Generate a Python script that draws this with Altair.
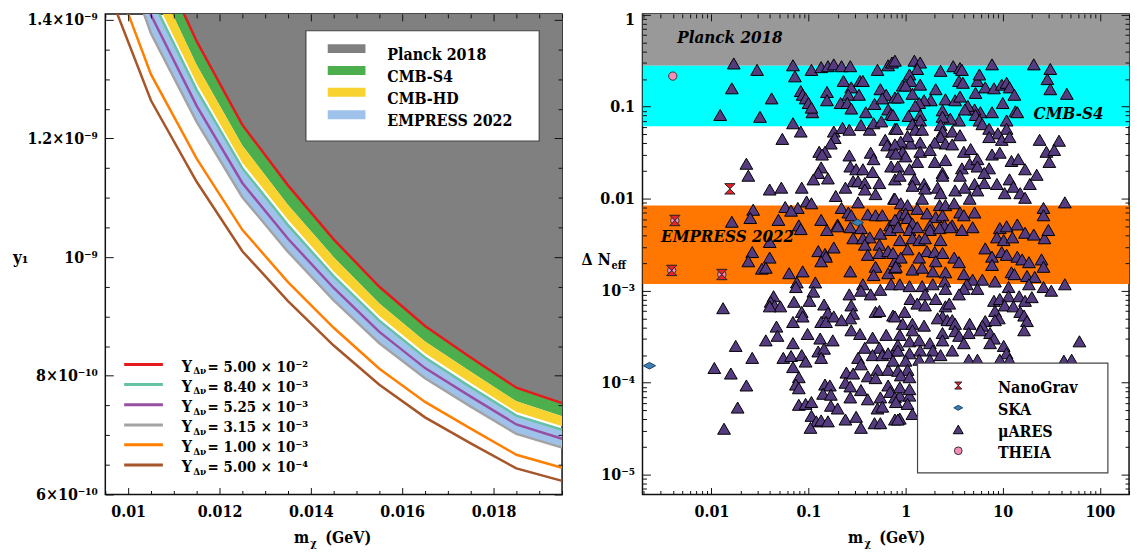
import altair as alt
import pandas as pd
import numpy as np

FONT = "DejaVu Serif Condensed, DejaVu Serif, serif"
WL, HL = 460, 484      # left plot area
WR, HR = 490, 484      # right plot area

# ---------------- LEFT PANEL DATA ----------------
m_chi = [0.0095, 0.0105, 0.0115, 0.0125, 0.0135, 0.0145, 0.0155, 0.0165, 0.0175, 0.0185, 0.0195]
# y1 values, in units of 1e-10
y1_5p00e2 = [17.70, 15.30, 13.64, 12.23, 11.21, 10.30, 9.50, 8.84, 8.31, 7.80, 7.54]
cmbs4_low = [17.19, 14.86, 13.24, 11.88, 10.88, 10.00, 9.22, 8.58, 8.07, 7.57, 7.32]
cmbhd_low = [16.78, 14.50, 12.93, 11.59, 10.63, 9.76, 9.01, 8.38, 7.88, 7.39, 7.15]
y1_8p40e3 = [16.64, 14.38, 12.82, 11.50, 10.54, 9.68, 8.93, 8.31, 7.81, 7.33, 7.09]
y1_5p25e3 = [16.28, 14.08, 12.55, 11.25, 10.31, 9.48, 8.74, 8.13, 7.65, 7.18, 6.94]
y1_3p15e3 = [15.93, 13.77, 12.28, 11.01, 10.09, 9.27, 8.55, 7.96, 7.48, 7.02, 6.79]
y1_1p00e3 = [15.13, 13.08, 11.66, 10.46, 9.58, 8.81, 8.12, 7.56, 7.11, 6.67, 6.45]
y1_5p00e4 = [14.62, 12.64, 11.27, 10.10, 9.26, 8.51, 7.85, 7.30, 6.86, 6.44, 6.23]
planck_upper = 20.0   # Planck-excluded region continues above the plotted range

line_labels = ["5.00 × 10⁻²", "8.40 × 10⁻³", "5.25 × 10⁻³", "3.15 × 10⁻³", "1.00 × 10⁻³", "5.00 × 10⁻⁴"]
line_colors = ["#e41a1c", "#66c2a5", "#984ea3", "#a3a3a3", "#ff7f00", "#a65628"]
band_labels_l = ["Planck 2018", "CMB-S4", "CMB-HD", "EMPRESS 2022"]
band_colors_l = ["#808080", "#4cae4c", "#f8d22f", "#9fc2eb"]

# ---------------- RIGHT PANEL DATA ----------------
band_names_r = ["Planck 2018", "CMB-S4", "EMPRESS 2022"]
band_low_r = [0.279, 0.0612, 0.00118]
band_high_r = [2.0, 0.279, 0.00843]
band_colors_r = ["#999999", "#00ffff", "#ff7700"]
band_text_m = [0.00445, 20.8, 0.00303]
band_text_dn = [0.487, 0.0738, 0.00337]

nanograv_m = [0.0042, 0.0039, 0.0155, 0.0128]
nanograv_dn = [0.0058, 0.00166, 0.0128, 0.0015]
ska_m = [0.0023, 0.32]
ska_dn = [1.53e-4, 0.0055]
theia_m = [0.0040, 0.0042, 0.0039, 0.0128]
theia_dn = [0.215, 0.0058, 0.00166, 0.0015]

# muARES points as (log10 m_chi/GeV, log10 Delta N_eff)
muares_a = [(-1.77,-0.53),(-1.53,-0.60),(-1.16,-0.55),(-0.97,-0.60),(-0.87,-0.57),(-0.80,-0.56),(-0.74,-0.54),(-0.66,-0.56),
 (-0.57,-0.56),(-0.29,-0.60),(-0.18,-0.55),(-0.14,-0.52),(-1.14,-0.67),(-1.79,-0.80),(-1.38,-0.91),(-1.08,-0.83),(-1.06,-0.87),
 (-1.03,-0.91),(-1.00,-0.96),(-0.96,-1.06),(-0.97,-1.01),(-0.81,-0.84),(-0.81,-0.93),(-0.64,-0.72),(-0.56,-0.79),(-0.59,-0.87),
 (-0.48,-0.87),(-0.47,-0.72),(-0.44,-0.72),(-0.67,-0.96),(-0.60,-0.96),(-0.56,-1.02),(-0.41,-1.06),(-0.32,-0.97),(-0.26,-0.81),
 (-0.20,-0.87),(-0.24,-0.91),(-0.11,-0.90),(-0.18,-1.03),(-0.15,-1.08),(-1.91,-1.09),(-1.50,-1.11),(-1.16,-1.18),(-1.08,-1.27),
 (-1.27,-1.35),(-0.74,-1.27),(-0.65,-1.23),(-0.58,-1.25),(-0.46,-1.20),(-0.37,-1.25),(-0.33,-1.18),(-0.25,-1.16),(-0.11,-1.24),
 (-0.73,-1.34),(-0.77,-1.40),(-0.21,-1.36),(-0.19,-1.42),(-0.14,-1.49),(-0.89,-1.49),(-0.83,-1.49),(-0.86,-1.52),(-0.58,-1.53),
 (-0.36,-1.50),(-0.33,-1.57),(-1.64,-1.62),(-1.62,-1.75),(-0.87,-1.66),(-0.90,-1.72),(-0.57,-1.65),(-0.51,-1.68),(-0.44,-1.68),
 (-0.34,-1.71),(-0.15,-1.65),(-0.95,-1.79),(-0.80,-1.78),(-0.54,-1.81),(-0.49,-1.81),(-0.42,-1.83),(-0.27,-1.83),(-0.11,-1.79),
 (-1.40,-1.90),(-1.28,-1.88),(-1.07,-1.88),(-0.62,-1.88),(-0.42,-1.90),(-0.72,-1.97),(-0.31,-1.95),(-0.12,-2.00),(-0.49,-2.04),
 (-1.02,-2.03),(-0.97,-2.05),(-1.24,-2.09),(-1.11,-2.10),(-1.18,-2.13),(-1.57,-2.12),(-1.60,-2.21),(-1.79,-2.25),(-0.66,-2.10),
 (-0.59,-2.15),(-0.56,-2.18),(-0.39,-2.17),(-0.31,-2.18),(-0.24,-2.18),(-0.87,-2.23),(-0.70,-2.28),(-1.31,-2.23),(-0.16,-2.29),
 (-1.10,-2.29)]
muares_b = [(-0.11,-0.50),(0.09,-0.50),(0.15,-0.52),(0.12,-0.59),(0.04,-0.65),(0.05,-0.72),(0.15,-0.76),(-0.03,-0.77),(0.00,-0.77),
 (0.07,-0.86),(-0.08,-0.90),(0.36,-0.61),(0.49,-0.56),(0.56,-0.58),(0.58,-0.60),(0.55,-0.72),(0.59,-0.74),(0.74,-0.72),(0.76,-0.65),
 (0.89,-0.54),(0.31,-0.81),(0.26,-0.93),(0.19,-0.93),(0.14,-0.96),(0.10,-0.99),(0.41,-0.92),(0.51,-0.93),(0.56,-0.89),(0.72,-0.85),
 (0.82,-0.79),(0.91,-0.80),(0.99,-0.76),(1.04,-0.74),(1.07,-0.79),(1.12,-0.87),(1.00,-0.96),(1.13,-1.05),(0.89,-1.06),(0.77,-1.06),
 (0.71,-1.03),(0.64,-0.99),(0.61,-1.03),(0.72,-1.09),(0.55,-1.15),(0.46,-1.13),(0.38,-1.04),(0.38,-1.11),(0.15,-1.09),(0.15,-1.15),
 (0.03,-1.10),(0.07,-1.19),(0.36,-1.20),(-0.13,-1.09),(-0.09,-1.24),(0.10,-1.25),(0.17,-1.25),(0.76,-1.15),(0.79,-1.19),(0.86,-1.24),
 (1.04,-1.15),(1.04,-1.24),(0.95,-1.29),(0.99,-1.36),(1.07,-1.33),(0.86,-1.33),(0.38,-1.27),(0.48,-1.27),(0.56,-1.31),(0.36,-1.33),
 (0.41,-1.40),(0.48,-1.41),(0.30,-1.39),(0.15,-1.39),(0.05,-1.40),(0.02,-1.32),(-0.05,-1.38),(-0.11,-1.41),(-0.03,-1.49),(0.00,-1.54),
 (-0.10,-1.51),(0.15,-1.49),(0.25,-1.47),(0.60,-1.49),(0.67,-1.46),(0.89,-1.52),(0.97,-1.50),(0.12,-1.60),(0.04,-1.68),(-0.08,-1.65),
 (-0.06,-1.75),(0.30,-1.60),(0.41,-1.58),(0.38,-1.72),(0.38,-1.75),(0.58,-1.67),(0.66,-1.62),(0.74,-1.57),(0.74,-1.65),(0.86,-1.67),
 (0.81,-1.72),(0.56,-1.75),(1.09,-1.59),(1.16,-1.57),(1.23,-1.68),(0.09,-1.79),(0.07,-1.86),(0.19,-1.84),(0.20,-1.89),(0.33,-1.88),
 (0.51,-1.91),(0.61,-1.88),(0.71,-1.84),(0.81,-1.83),(0.94,-1.84),(1.07,-1.79),(1.11,-1.87),(1.28,-1.84),(1.35,-1.74),(0.36,-1.94),
 (0.74,-1.91),(1.02,-1.94),(1.18,-1.94),(1.23,-1.99),(0.17,-2.00),(-0.11,-2.00),(-0.05,-2.05),(0.02,-2.07),(0.12,-2.11),(0.35,-2.07),
 (0.41,-2.07),(0.50,-2.05),(0.66,-2.00),(0.22,-2.16),(0.31,-2.20),(0.38,-2.18),(0.56,-2.15),(0.60,-2.18),(0.71,-2.15),(-0.06,-2.18),
 (0.00,-2.16),(0.02,-2.21),(0.07,-2.27),(-0.11,-2.23),(0.25,-2.29),(0.40,-2.29),(0.48,-2.29),(0.97,-2.32),(1.04,-2.30),(1.15,-2.28),
 (1.42,-2.10),(1.42,-2.18),(1.64,-2.04),(1.38,-1.36),(1.58,-1.37),(1.45,-1.49),(1.53,-1.47),(1.48,-1.60),(1.32,-0.54),(1.49,-0.59),
 (1.46,-0.70),(1.49,-0.81),(1.66,-0.86),(1.15,-1.06)]
muares_c = [(-1.08,-2.33),(-0.81,-2.34),(-0.70,-2.30),(-0.57,-2.31),(-0.46,-2.32),(-0.54,-2.43),(-0.44,-2.43),(-0.37,-2.42),
 (-0.26,-2.38),(-0.16,-2.34),(-1.40,-2.47),(-0.27,-2.50),(-0.42,-2.50),(-1.58,-2.58),(-1.62,-2.68),(-1.40,-2.64),(-0.90,-2.57),
 (-0.83,-2.60),(-0.74,-2.53),(-0.82,-2.63),(-0.87,-2.68),(-0.39,-2.61),(-0.27,-2.59),(-0.18,-2.57),(-0.11,-2.68),(-1.48,-2.76),
 (-1.44,-2.75),(-1.20,-2.81),(-1.06,-2.79),(-0.57,-2.79),(-0.31,-2.74),(-0.33,-2.83),(-0.18,-2.81),(-0.11,-2.75),(-1.12,-2.91),
 (-0.93,-2.91),(-0.44,-2.93),(-0.15,-2.93),(-1.13,-2.96),(-0.95,-3.01),(-0.58,-3.04),(-0.46,-3.00),(-0.36,-3.04),(-0.26,-2.99),
 (-1.88,-3.19),(-1.36,-3.06),(-1.39,-3.12),(-1.35,-3.16),(-1.29,-3.17),(-1.40,-3.17),(-1.15,-3.12),(-0.99,-3.11),(-0.84,-3.15),
 (-0.80,-3.24),(-0.56,-3.16),(-0.54,-3.25),(-0.57,-3.30),(-0.31,-3.23),(-0.27,-3.22),(-0.13,-3.27),(-1.07,-3.23),(-1.06,-3.28),
 (-1.16,-3.34),(-0.87,-3.34),(-0.82,-3.34),(-0.74,-3.28),(-0.66,-3.32),(-1.33,-3.39),(-0.56,-3.43),(-0.47,-3.47),(-0.34,-3.51),
 (-0.20,-3.48),(-1.32,-3.49),(-1.44,-3.54),(-1.01,-3.47),(-0.88,-3.52),(-0.75,-3.54),(-1.16,-3.57),(-1.75,-3.60),(-0.42,-3.62),
 (-0.27,-3.62),(-0.11,-3.65),(-0.90,-3.66),(-0.84,-3.63),(-1.26,-3.73),(-1.18,-3.71),(-1.07,-3.70),(-1.03,-3.77),(-0.87,-3.73),
 (-1.58,-3.73),(-0.49,-3.73),(-0.34,-3.70),(-0.24,-3.70),(-0.18,-3.68),(-1.97,-3.84),(-1.80,-3.90),(-1.16,-3.83),(-0.46,-3.80),
 (-0.29,-3.86),(-0.18,-3.86),(-0.61,-3.89),(-0.54,-3.90),(-0.39,-3.93),(-0.31,-3.95),(-1.10,-3.94),(-1.64,-4.03),(-1.13,-4.02),
 (-1.10,-4.06),(-0.83,-4.02),(-0.78,-4.03),(-0.62,-4.00),(-0.57,-4.04),(-0.18,-4.03),(-0.16,-4.10),(-0.85,-4.12),(-0.77,-4.13),
 (-0.57,-4.16),(-0.46,-4.08),(-0.39,-4.18),(-0.26,-4.16),(-0.11,-4.16),(-1.10,-4.24),(-1.03,-4.23),(-0.97,-4.21),(-0.77,-4.25),
 (-0.70,-4.28),(-1.73,-4.27),(-0.97,-4.36),(-0.92,-4.42),(-0.87,-4.41),(-0.80,-4.42),(-0.62,-4.40),(-0.51,-4.37),(-0.29,-4.28),
 (-0.24,-4.26),(-0.11,-4.40),(-0.32,-4.44),(-0.26,-4.44),(-0.98,-4.49),(-0.46,-4.49),(-1.87,-4.50)]
muares_d = [(-0.08,-2.31),(0.04,-2.34),(0.12,-2.31),(0.25,-2.34),(0.35,-2.32),(0.46,-2.31),(0.58,-2.34),(0.69,-2.31),(1.23,-2.37),
 (1.32,-2.39),(1.43,-2.43),(1.47,-2.34),(-0.06,-2.45),(0.07,-2.43),(0.14,-2.45),(0.20,-2.43),(0.36,-2.45),(0.94,-2.42),(1.01,-2.45),
 (1.10,-2.42),(0.02,-2.55),(0.22,-2.57),(0.30,-2.58),(0.38,-2.59),(-0.13,-2.59),(-0.05,-2.64),(0.14,-2.64),(0.31,-2.68),(0.50,-2.64),
 (0.55,-2.69),(0.82,-2.54),(0.89,-2.63),(0.89,-2.72),(0.99,-2.58),(1.04,-2.61),(1.15,-2.63),(1.20,-2.66),(1.27,-2.69),(1.40,-2.66),
 (1.42,-2.74),(-0.10,-2.74),(0.07,-2.77),(0.17,-2.75),(0.41,-2.80),(0.28,-2.79),(0.60,-2.82),(0.69,-2.88),(0.79,-2.88),(0.92,-2.90),
 (1.09,-2.80),(1.12,-2.82),(1.25,-2.84),(1.33,-2.85),(-0.06,-2.93),(0.04,-2.95),(0.17,-2.95),(0.28,-2.93),(0.40,-2.90),(0.63,-2.93),
 (0.74,-2.98),(0.60,-2.98),(1.06,-2.96),(1.27,-2.93),(1.42,-2.96),(1.50,-3.00),(1.64,-2.93),(0.05,-3.09),(0.20,-3.04),(0.31,-3.09),
 (0.41,-2.98),(0.55,-3.04),(0.91,-3.11),(0.97,-3.09),(1.06,-3.06),(1.17,-3.06),(1.23,-3.11),(1.30,-3.07),(0.12,-3.14),(0.20,-3.16),
 (0.41,-3.17),(0.45,-3.14),(1.02,-3.16),(1.11,-3.17),(0.92,-3.22),(-0.01,-3.23),(0.38,-3.28),(0.33,-3.30),(0.43,-3.32),(0.48,-3.32),
 (1.18,-3.23),(1.22,-3.27),(0.96,-3.30),(0.82,-3.33),(-0.11,-3.28),(-0.03,-3.36),(0.07,-3.36),(0.19,-3.38),(0.51,-3.36),(0.66,-3.36),
 (0.79,-3.38),(0.92,-3.32),(1.25,-3.33),(1.22,-3.43),(0.07,-3.43),(-0.06,-3.48),(0.38,-3.46),(0.51,-3.44),(0.55,-3.49),(0.65,-3.46),
 (0.77,-3.43),(0.87,-3.46),(0.91,-3.52),(-0.08,-3.59),(0.04,-3.55),(0.14,-3.54),(0.25,-3.57),(0.38,-3.54),(0.60,-3.57),(1.01,-3.60),
 (1.04,-3.68),(0.87,-3.57),(1.79,-3.55),(-0.08,-3.65),(0.04,-3.68),(0.15,-3.65),(0.28,-3.65),(0.36,-3.70),(0.48,-3.65),(0.25,-3.75),
 (0.14,-3.75),(0.65,-3.75),(0.74,-3.75),(0.97,-3.75),(1.07,-3.75),(1.63,-3.76),(1.71,-3.75),(0.00,-3.76),(-0.13,-3.76),(0.02,-3.86),
 (-0.08,-3.87),(-0.05,-3.92),(0.04,-3.94),(-0.06,-4.14),(0.04,-4.14),(-0.06,-4.05),(0.04,-4.07),(-0.10,-4.21),(0.02,-4.23),
 (0.07,-4.34),(-0.06,-4.39),(-0.08,-4.40)]

legend_r_labels = ["NanoGrav", "SKA", "μARES", "THEIA"]

# ---------------- helpers ----------------
dummy = pd.DataFrame({"k": [0]})


def txt(s, x, y, size=16, align="left", baseline="alphabetic", style="normal", weight="bold"):
    return alt.Chart(dummy).mark_text(text=s, font=FONT, fontSize=size, fontWeight=weight, fontStyle=style,
                                      align=align, baseline=baseline, color="black").encode(
        x=alt.value(x), y=alt.value(y))


def box(x1, x2, y1, y2, fill, stroke=None, sw=0.0):
    kw = dict(fill=fill, opacity=1)
    if stroke:
        kw.update(stroke=stroke, strokeWidth=sw)
    return alt.Chart(dummy).mark_rect(**kw).encode(x=alt.value(x1), x2=alt.value(x2), y=alt.value(y1), y2=alt.value(y2))


def seg(x1, x2, y, color, w):
    return alt.Chart(dummy).mark_rule(color=color, strokeWidth=w).encode(x=alt.value(x1), x2=alt.value(x2), y=alt.value(y))


def sym(x, y, shape, size, fill, stroke="black", sw=1.0):
    return alt.Chart(dummy).mark_point(shape=shape, size=size, filled=True, fill=fill, stroke=stroke,
                                       strokeWidth=sw, opacity=1).encode(x=alt.value(x), y=alt.value(y))


def dash(length, tick):
    return [tick, length - 2 * tick, tick, length + 200]


def mk_axis(values, major, label_expr, length, tmaj, tmin, pad, flush=False):
    kw = {}
    if flush:
        kw["labelFlushOffset"] = 3
    return alt.Axis(values=values, title=None, domain=False, ticks=False, grid=True, gridColor="#111111",
                    gridWidth=1, gridOpacity=1,
                    gridDash={"condition": {"test": major, "value": dash(length, tmaj)}, "value": dash(length, tmin)},
                    labelExpr=label_expr, labelFont=FONT, labelFontSize=16, labelFontWeight="bold",
                    labelColor="black", labelPadding=pad, labelOverlap=False, labelFlush=flush, zindex=1, **kw)


HOURGLASS = "M-1,-1L1,-1L-1,1L1,1Z"
FLATDIAMOND = "M-1,0L0,-0.55L1,0L0,0.55Z"

# ---------------- LEFT PANEL ----------------
xl_vals = [round(0.0095 + 0.0005 * i, 4) for i in range(21)]
major_xl = "abs(datum.value*500 - round(datum.value*500)) < 1e-6"
axis_xl = mk_axis(xl_vals, major_xl, f"({major_xl}) ? format(datum.value, '~g') : ''", HL, 7, 4, 9)

yl_vals = [round(6.0 + 0.5 * i, 1) * 1e-10 for i in range(17)]
major_yl = "abs(datum.value/2e-10 - round(datum.value/2e-10)) < 1e-6"
ylab = ("abs(datum.value-6e-10)<1e-13 ? '6×10⁻¹⁰' : abs(datum.value-8e-10)<1e-13 ? '8×10⁻¹⁰' : "
        "abs(datum.value-1e-9)<1e-13 ? '10⁻⁹' : abs(datum.value-1.2e-9)<1e-13 ? '1.2×10⁻⁹' : "
        "abs(datum.value-1.4e-9)<1e-13 ? '1.4×10⁻⁹' : ''")
axis_yl = mk_axis(yl_vals, major_yl, ylab, WL, 8, 4, 8)

XL = alt.X("m:Q", scale=alt.Scale(domain=[0.0095, 0.0195], nice=False, zero=False), axis=axis_xl)
sc_yl = alt.Scale(domain=[6.0e-10, 1.41e-9], nice=False, zero=False)


def YL(f):
    return alt.Y(f"{f}:Q", scale=sc_yl, axis=axis_yl)


df_area = pd.DataFrame({
    "m": m_chi,
    "planck_top": [planck_upper * 1e-10] * len(m_chi),
    "planck_low": [v * 1e-10 for v in y1_5p00e2],
    "s4_low": [v * 1e-10 for v in cmbs4_low],
    "hd_low": [v * 1e-10 for v in cmbhd_low],
    "emp_top": [v * 1e-10 for v in y1_8p40e3],
    "emp_low": [v * 1e-10 for v in y1_3p15e3],
})
rows = []
for lab, vals in zip(line_labels, [y1_5p00e2, y1_8p40e3, y1_5p25e3, y1_3p15e3, y1_1p00e3, y1_5p00e4]):
    for m, v in zip(m_chi, vals):
        rows.append({"m": m, "y1": v * 1e-10, "series": lab})
df_lines = pd.DataFrame(rows)

area_planck = alt.Chart(df_area).mark_area(color=band_colors_l[0], clip=True, opacity=1).encode(
    x=XL, y=YL("planck_low"), y2="planck_top:Q")
area_s4 = alt.Chart(df_area).mark_area(color=band_colors_l[1], clip=True, opacity=1).encode(
    x=XL, y=YL("s4_low"), y2="planck_low:Q")
area_hd = alt.Chart(df_area).mark_area(color=band_colors_l[2], clip=True, opacity=1).encode(
    x=XL, y=YL("hd_low"), y2="s4_low:Q")
area_emp = alt.Chart(df_area).mark_area(color=band_colors_l[3], clip=True, opacity=1).encode(
    x=XL, y=YL("emp_low"), y2="emp_top:Q")
lines_l = alt.Chart(df_lines).mark_line(clip=True, strokeWidth=2.5).encode(
    x=XL, y=YL("y1"),
    color=alt.Color("series:N", scale=alt.Scale(domain=line_labels, range=line_colors), legend=None),
    detail="series:N")

left_layers = [area_planck, area_s4, area_hd, area_emp, lines_l]

# band legend (top right)
left_layers.append(box(202, 437, 17, 128, "white", "#444444", 1.2))
sw_centers = [35, 57, 79, 101.5]
txt_base = [46.7, 69, 90.8, 113.3]
for lab, col, c, b in zip(band_labels_l, band_colors_l, sw_centers, txt_base):
    left_layers.append(box(224, 262, c - 4.5, c + 4.5, col))
    left_layers.append(txt(lab, 284, b, size=16))

# line legend (bottom left)
row_y = [353, 373.3, 393.7, 414, 434, 454.3]
for lab, col, ry in zip(line_labels, line_colors, row_y):
    left_layers.append(seg(19, 58, ry, col, 3))
    left_layers.append(txt("Y", 77, ry + 7.3, size=16))
    left_layers.append(txt("Δν", 88.5, ry + 10, size=10))
    left_layers.append(txt("= " + lab, 103, ry + 7.3, size=15))

# axis titles
left_layers.append(txt("y₁", -93, 251, size=17))
left_layers.append(txt("m", 190, 533.3, size=16))
left_layers.append(txt("χ", 206.5, 536.5, size=11))
left_layers.append(txt("(GeV)", 221.5, 533.3, size=16))

left = alt.layer(*left_layers).properties(width=WL, height=HL)

# ---------------- RIGHT PANEL ----------------
xr_vals = [k * 10.0 ** e for e in range(-3, 3) for k in range(1, 10) if 0.00195 <= k * 10.0 ** e <= 200]
yr_vals = [k * 10.0 ** e for e in range(-6, 1) for k in range(1, 10) if 6.1e-6 <= k * 10.0 ** e <= 1.02]
major_log = "abs(log(datum.value)/LN10 - round(log(datum.value)/LN10)) < 1e-6"
axis_xr = mk_axis(xr_vals, major_log, f"({major_log}) ? format(datum.value, '~g') : ''", HR, 7, 4, 9)
yrlab = (f"({major_log}) ? (datum.value > 0.005 ? format(datum.value, '~g') : "
         "('10' + (round(log(datum.value)/LN10) == -3 ? '⁻³' : round(log(datum.value)/LN10) == -4 ? '⁻⁴' : '⁻⁵'))) : ''")
axis_yr = mk_axis(yr_vals, major_log, yrlab, WR, 8, 4, 8, flush=True)
sc_xr = alt.Scale(type="log", domain=[0.00195, 200], nice=False)
sc_yr = alt.Scale(type="log", domain=[6.1e-6, 1.02], nice=False)


def XR(f):
    return alt.X(f"{f}:Q", scale=sc_xr, axis=axis_xr)


def YR(f):
    return alt.Y(f"{f}:Q", scale=sc_yr, axis=axis_yr)


df_bands_r = pd.DataFrame({"name": band_names_r, "lo": band_low_r, "hi": band_high_r})
df_btxt = pd.DataFrame({"name": band_names_r, "tm": band_text_m, "tdn": band_text_dn})
mu = np.array(muares_a + muares_b + muares_c + muares_d)
df_mu = pd.DataFrame({"m": 10 ** mu[:, 0], "dn": 10 ** mu[:, 1]})
df_ng = pd.DataFrame({"m": nanograv_m, "dn": nanograv_dn})
df_ska = pd.DataFrame({"m": ska_m, "dn": ska_dn})
df_th = pd.DataFrame({"m": theia_m, "dn": theia_dn})

bands_r = alt.Chart(df_bands_r).mark_rect(clip=True, opacity=1).encode(
    x=alt.value(0), x2=alt.value(WR), y=YR("lo"), y2="hi:Q",
    color=alt.Color("name:N", scale=alt.Scale(domain=band_names_r, range=band_colors_r), legend=None))
tri = alt.Chart(df_mu).mark_point(shape="triangle-up", size=165, filled=True, fill="#553c80", stroke="black",
                                  strokeWidth=1, opacity=1, clip=True).encode(x=XR("m"), y=YR("dn"))
theia = alt.Chart(df_th).mark_point(shape="circle", size=70, filled=True, fill="#f58cba", stroke="#333333",
                                    strokeWidth=1, opacity=1, clip=True).encode(x=XR("m"), y=YR("dn"))
ng = alt.Chart(df_ng).mark_point(shape=HOURGLASS, size=110, filled=True, fill="#e8222a", stroke="#222222",
                                 strokeWidth=1, opacity=1, clip=True).encode(x=XR("m"), y=YR("dn"))
ska = alt.Chart(df_ska).mark_point(shape=FLATDIAMOND, size=150, filled=True, fill="#3a80b6", stroke="#1f3f5f",
                                   strokeWidth=1, opacity=1, clip=False).encode(x=XR("m"), y=YR("dn"))
btxt = alt.Chart(df_btxt).mark_text(font=FONT, fontSize=17, fontWeight="bold", fontStyle="italic", align="left",
                                    baseline="alphabetic", color="black").encode(
    x=XR("tm"), y=YR("tdn"), text="name:N")

right_layers = [bands_r, tri, theia, ng, ska, btxt]

# marker legend
right_layers.append(box(277, 468.7, 351.7, 462.3, "white", "#444444", 1.2))
leg_y = [374.3, 396.7, 418.5, 440]
leg_base = [381.3, 403.6, 426.2, 447.3]
right_layers.append(sym(318, leg_y[0], HOURGLASS, 50, "#e8222a", "#222222", 1))
right_layers.append(sym(318, leg_y[1], FLATDIAMOND, 80, "#3a80b6", "#1f3f5f", 1))
right_layers.append(sym(318, leg_y[2], "triangle-up", 100, "#553c80", "black", 1))
right_layers.append(sym(318, leg_y[3], "circle", 60, "#f58cba", "#333333", 1))
for lab, b in zip(legend_r_labels, leg_base):
    right_layers.append(txt(lab, 358, b, size=16))

# axis titles
right_layers.append(txt("Δ N", -61.3, 253.3, size=16))
right_layers.append(txt("eff", -31.3, 257, size=11))
right_layers.append(txt("m", 207, 533.3, size=16))
right_layers.append(txt("χ", 223.5, 536.5, size=11))
right_layers.append(txt("(GeV)", 238.5, 533.3, size=16))

right = alt.layer(*right_layers).properties(width=WR, height=HR)

chart = alt.hconcat(left, right, spacing=17).resolve_scale(color="independent").properties(
    padding={"left": 4, "top": 0, "right": 4, "bottom": 0}
).configure(background="white").configure_view(stroke="#111111", strokeWidth=1.5)

chart.save("out.html", embed_options={"renderer": "svg", "actions": False})
